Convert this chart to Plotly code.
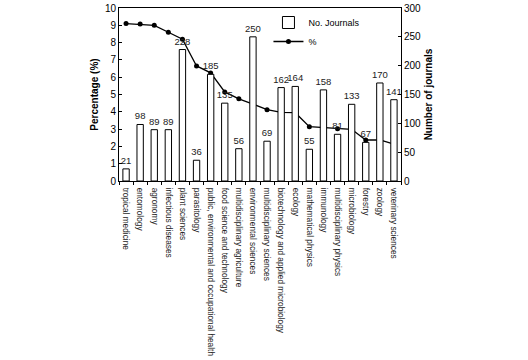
import plotly.graph_objects as go

categories = [
    "tropical medicine", "entomology", "agronomy", "infectious diseases",
    "plant sciences", "parasitology", "public, environmental and occupational health",
    "food science and technology", "multidisciplinary agriculture",
    "environmental sciences", "multidisciplinary sciences",
    "biotechnology and applied microbiology", "ecology", "mathematical physics",
    "immunology", "multidisciplinary physics", "microbiology", "forestry",
    "zoology", "veterinary sciences",
]
journals = [21, 98, 89, 89, 228, 36, 185, 135, 56, 250, 69, 162, 164, 55, 158, 81, 133, 67, 170, 141]
percentage = [9.1, 9.07, 9.0, 8.6, 8.2, 6.65, 6.25, 5.15, 4.75, 4.45, 4.12, 3.97, 3.95,
              3.14, 3.08, 3.02, 2.99, 2.37, 2.37, 2.13]

FONT = "Liberation Sans, Arial, sans-serif"

fig = go.Figure()
fig.add_trace(go.Bar(
    x=categories, y=journals, name="No. Journals", yaxis="y2",
    width=0.45, marker=dict(color="white", line=dict(color="black", width=1)),
    text=[str(v) for v in journals], textposition="outside", cliponaxis=False,
    constraintext="none",
    textfont=dict(family=FONT, size=9.5, color="#222"),
))
fig.add_trace(go.Scatter(
    x=categories, y=percentage, name="%", mode="lines+markers",
    line=dict(color="black", width=1.3), marker=dict(color="black", size=5),
))

fig.update_layout(
    width=528, height=360,
    margin=dict(l=119, r=127, t=8, b=179, autoexpand=False),
    paper_bgcolor="white", plot_bgcolor="white",
    font=dict(family=FONT, size=10, color="black"),
    showlegend=True,
    legend=dict(x=0.53, y=1.0, xanchor="left", yanchor="top",
                bgcolor="rgba(0,0,0,0)", font=dict(size=9),
                traceorder="normal", tracegroupgap=0),
    xaxis=dict(
        range=[-0.5, len(categories) - 0.5], autorange=False,
        tickangle=90, tickfont=dict(size=8.3, color="#222"), showline=True,
        linecolor="black", linewidth=1, mirror=True, ticks="outside",
        tickson="boundaries", ticklen=3, tickcolor="black", showgrid=False,
        automargin=False, ticklabelstandoff=4,
    ),
    yaxis=dict(
        range=[0, 10], dtick=1, showline=True, linecolor="black", linewidth=1,
        ticks="inside", ticklen=3, tickcolor="black", showgrid=False,
        zeroline=False, tickfont=dict(size=10), automargin=False,
        title=dict(text="<b>Percentage (%)</b>", font=dict(size=10), standoff=4),
    ),
    yaxis2=dict(
        range=[0, 300], dtick=50, overlaying="y", side="right",
        showline=True, linecolor="black", linewidth=1,
        ticks="inside", ticklen=3, tickcolor="black", showgrid=False,
        zeroline=False, tickfont=dict(size=10), automargin=False,
        title=dict(text="<b>Number of journals</b>", font=dict(size=10), standoff=4),
    ),
)

fig.write_html(
    "out.html",
    config={"displayModeBar": False},
    post_script="document.body.style.margin='0';document.documentElement.style.overflow='hidden';",
)
